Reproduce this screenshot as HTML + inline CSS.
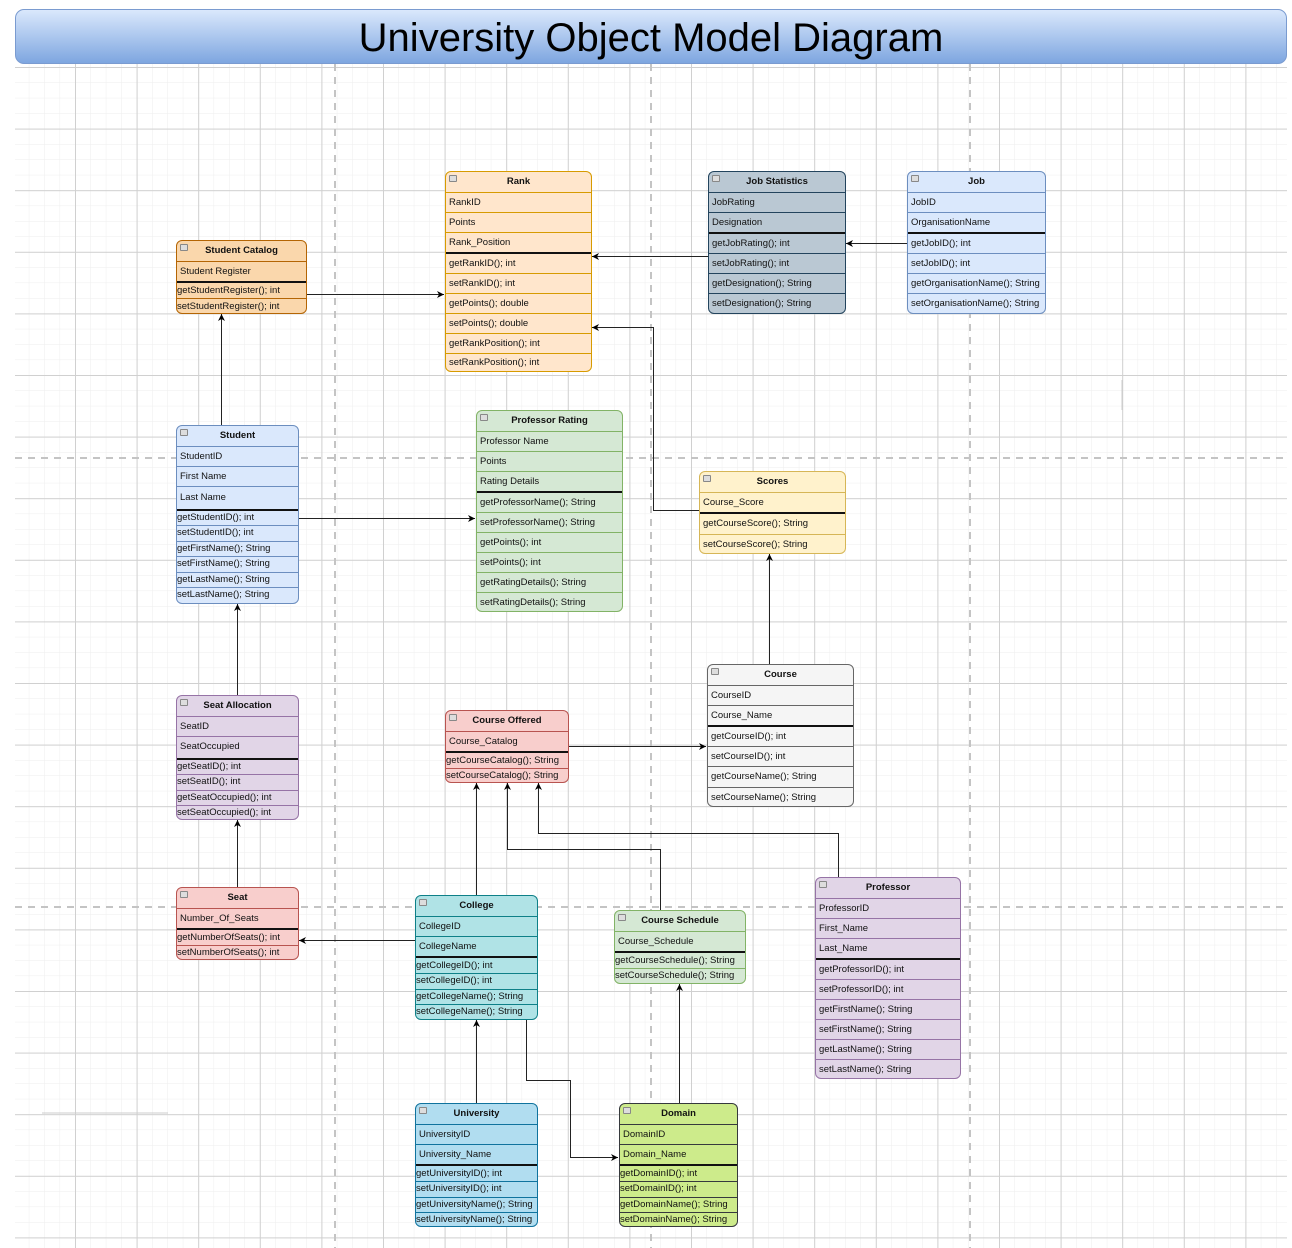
<!DOCTYPE html>
<html><head><meta charset="utf-8"><style>
html,body{margin:0;padding:0;background:#fff;}
#c{position:relative;width:1292px;height:1248px;overflow:hidden;font-family:"Liberation Sans",sans-serif;}
.b{position:absolute;border:1px solid;border-radius:6px;overflow:hidden;box-sizing:border-box;}
.b div{box-sizing:border-box;white-space:nowrap;font-size:9.5px;color:#111;}
.h{font-weight:bold;text-align:center;position:relative;}
.h:before{content:"";position:absolute;left:3px;top:3px;width:6px;height:5px;border:1px solid #888;background:#ddd;border-radius:1px;}
.r{padding-left:3px;border-top:1px solid;}
.m{padding-left:0px;border-top:1px solid;}
.s{border-top:2px solid #111 !important;}
#title{position:absolute;left:15px;top:9px;width:1272px;height:55px;border:1px solid #7a9bd0;border-radius:9px;box-sizing:border-box;background:linear-gradient(#dae8fc,#7ea6e0);text-align:center;font-size:40px;line-height:56px;color:#000;}
</style></head><body><div id="c">
<svg width="1292" height="1248" style="position:absolute;left:0;top:0">
<defs>
<pattern id="mi" x="13.4" y="5.4" width="15.4" height="15.4" patternUnits="userSpaceOnUse"><path d="M0 0H15.4M0 0V15.4" stroke="#eeeeee" stroke-width="1" fill="none"/></pattern>
<pattern id="ma" x="13.4" y="5.4" width="61.6" height="61.6" patternUnits="userSpaceOnUse"><path d="M0 0.5H61.6M0.5 0V61.6" stroke="#d0d0d0" stroke-width="1" fill="none"/></pattern>
<marker id="a" markerWidth="8" markerHeight="8" refX="7" refY="4" orient="auto" markerUnits="userSpaceOnUse"><path d="M0 0.5L7 4L0 7.5L2 4Z" fill="#000"/></marker>
</defs>
<rect x="15" y="8" width="1272" height="1240" fill="#fff"/>
<rect x="15" y="64" width="1272" height="1184" fill="url(#mi)"/>
<rect x="15" y="64" width="1272" height="1184" fill="url(#ma)"/>
<g stroke="#c4c4c4" stroke-width="2" stroke-dasharray="7,6">
<path d="M335 64V1248M651 64V1248M970 64V1248M15 458H1287M15 907H1287"/>
</g>
<path d="M42 1113H168M1122 380V410" stroke="#ccc"/>
<g stroke="#222" stroke-width="1" fill="none" marker-end="url(#a)">
<path d="M306 294.5H444"/>
<path d="M708 256.5H592"/>
<path d="M907 243.5H846"/>
<path d="M699 510.5H653.5V327.5H592"/>
<path d="M221.5 425V314"/>
<path d="M298 518.5H475"/>
<path d="M237.5 695V604"/>
<path d="M237.5 887V820"/>
<path d="M769.5 664V554"/>
<path d="M568 746.5H706"/>
<path d="M415 940.5H299"/>
<path d="M476.5 895V783"/>
<path d="M660.5 910V849.5H507.5V783"/>
<path d="M838.5 877V833.5H538.5V783"/>
<path d="M476.5 1103V1020"/>
<path d="M526.5 1019V1080.5H570.5V1157.5H618"/>
<path d="M679.5 1103V984"/>
</g>
</svg>
<div id="title">University Object Model Diagram</div>

<!-- Student Catalog -->
<div class="b" style="left:176px;top:240px;width:131px;height:74px;border-color:#b46504;background:#fad7ac">
<div class="h" style="height:20px;line-height:20px">Student Catalog</div>
<div class="r" style="height:20px;line-height:19px;border-color:#b46504">Student Register</div>
<div class="m s" style="height:17px;line-height:15px">getStudentRegister(); int</div>
<div class="m" style="height:16px;line-height:15px;border-color:#b46504">setStudentRegister(); int</div>
</div>

<!-- Rank -->
<div class="b" style="left:445px;top:171px;width:147px;height:201px;border-color:#d79b00;background:#ffe6cc">
<div class="h" style="height:20px;line-height:20px">Rank</div>
<div class="r" style="height:20px;line-height:19px;border-color:#d79b00">RankID</div>
<div class="r" style="height:20px;line-height:19px;border-color:#d79b00">Points</div>
<div class="r" style="height:20px;line-height:19px;border-color:#d79b00">Rank_Position</div>
<div class="r s" style="height:21px;line-height:19px">getRankID(); int</div>
<div class="r" style="height:20px;line-height:19px;border-color:#d79b00">setRankID(); int</div>
<div class="r" style="height:20px;line-height:19px;border-color:#d79b00">getPoints(); double</div>
<div class="r" style="height:20px;line-height:19px;border-color:#d79b00">setPoints(); double</div>
<div class="r" style="height:20px;line-height:19px;border-color:#d79b00">getRankPosition(); int</div>
<div class="r" style="height:19px;line-height:18px;border-color:#d79b00">setRankPosition(); int</div>
</div>

<!-- Job Statistics -->
<div class="b" style="left:708px;top:171px;width:138px;height:143px;border-color:#23445d;background:#bac8d3">
<div class="h" style="height:20px;line-height:20px">Job Statistics</div>
<div class="r" style="height:20px;line-height:19px;border-color:#23445d">JobRating</div>
<div class="r" style="height:20px;line-height:19px;border-color:#23445d">Designation</div>
<div class="r s" style="height:21px;line-height:19px">getJobRating(); int</div>
<div class="r" style="height:20px;line-height:19px;border-color:#23445d">setJobRating(); int</div>
<div class="r" style="height:20px;line-height:19px;border-color:#23445d">getDesignation(); String</div>
<div class="r" style="height:20px;line-height:19px;border-color:#23445d">setDesignation(); String</div>
</div>

<!-- Job -->
<div class="b" style="left:907px;top:171px;width:139px;height:143px;border-color:#6c8ebf;background:#dae8fc">
<div class="h" style="height:20px;line-height:20px">Job</div>
<div class="r" style="height:20px;line-height:19px;border-color:#6c8ebf">JobID</div>
<div class="r" style="height:20px;line-height:19px;border-color:#6c8ebf">OrganisationName</div>
<div class="r s" style="height:21px;line-height:19px">getJobID(); int</div>
<div class="r" style="height:20px;line-height:19px;border-color:#6c8ebf">setJobID(); int</div>
<div class="r" style="height:20px;line-height:19px;border-color:#6c8ebf">getOrganisationName(); String</div>
<div class="r" style="height:20px;line-height:19px;border-color:#6c8ebf">setOrganisationName(); String</div>
</div>

<!-- Student -->
<div class="b" style="left:176px;top:425px;width:123px;height:179px;border-color:#6c8ebf;background:#dae8fc">
<div class="h" style="height:20px;line-height:20px">Student</div>
<div class="r" style="height:20px;line-height:19px;border-color:#6c8ebf">StudentID</div>
<div class="r" style="height:20px;line-height:19px;border-color:#6c8ebf">First Name</div>
<div class="r" style="height:23px;line-height:21px;border-color:#6c8ebf">Last Name</div>
<div class="m s" style="height:16px;line-height:14px">getStudentID(); int</div>
<div class="m" style="height:15.5px;line-height:14px;border-color:#6c8ebf">setStudentID(); int</div>
<div class="m" style="height:15.5px;line-height:14px;border-color:#6c8ebf">getFirstName(); String</div>
<div class="m" style="height:15.5px;line-height:14px;border-color:#6c8ebf">setFirstName(); String</div>
<div class="m" style="height:15.5px;line-height:14px;border-color:#6c8ebf">getLastName(); String</div>
<div class="m" style="height:15.5px;line-height:14px;border-color:#6c8ebf">setLastName(); String</div>
</div>

<!-- Professor Rating -->
<div class="b" style="left:476px;top:410px;width:147px;height:202px;border-color:#82b366;background:#d5e8d4">
<div class="h" style="height:20px;line-height:20px">Professor Rating</div>
<div class="r" style="height:20px;line-height:19px;border-color:#82b366">Professor Name</div>
<div class="r" style="height:20px;line-height:19px;border-color:#82b366">Points</div>
<div class="r" style="height:20px;line-height:19px;border-color:#82b366">Rating Details</div>
<div class="r s" style="height:21px;line-height:19px">getProfessorName(); String</div>
<div class="r" style="height:20px;line-height:19px;border-color:#82b366">setProfessorName(); String</div>
<div class="r" style="height:20px;line-height:19px;border-color:#82b366">getPoints(); int</div>
<div class="r" style="height:20px;line-height:19px;border-color:#82b366">setPoints(); int</div>
<div class="r" style="height:20px;line-height:19px;border-color:#82b366">getRatingDetails(); String</div>
<div class="r" style="height:20px;line-height:19px;border-color:#82b366">setRatingDetails(); String</div>
</div>

<!-- Scores -->
<div class="b" style="left:699px;top:471px;width:147px;height:83px;border-color:#d6b656;background:#fff2cc">
<div class="h" style="height:20px;line-height:20px">Scores</div>
<div class="r" style="height:20px;line-height:19px;border-color:#d6b656">Course_Score</div>
<div class="r s" style="height:22px;line-height:20px">getCourseScore(); String</div>
<div class="r" style="height:20px;line-height:19px;border-color:#d6b656">setCourseScore(); String</div>
</div>

<!-- Course -->
<div class="b" style="left:707px;top:664px;width:147px;height:143px;border-color:#666;background:#f5f5f5">
<div class="h" style="height:20px;line-height:20px">Course</div>
<div class="r" style="height:20px;line-height:19px;border-color:#666">CourseID</div>
<div class="r" style="height:20px;line-height:19px;border-color:#666">Course_Name</div>
<div class="r s" style="height:21px;line-height:19px">getCourseID(); int</div>
<div class="r" style="height:20px;line-height:19px;border-color:#666">setCourseID(); int</div>
<div class="r" style="height:21px;line-height:20px;border-color:#666">getCourseName(); String</div>
<div class="r" style="height:20px;line-height:19px;border-color:#666">setCourseName(); String</div>
</div>

<!-- Seat Allocation -->
<div class="b" style="left:176px;top:695px;width:123px;height:125px;border-color:#9673a6;background:#e1d5e7">
<div class="h" style="height:20px;line-height:20px">Seat Allocation</div>
<div class="r" style="height:20px;line-height:19px;border-color:#9673a6">SeatID</div>
<div class="r" style="height:22px;line-height:20px;border-color:#9673a6">SeatOccupied</div>
<div class="m s" style="height:16px;line-height:14px">getSeatID(); int</div>
<div class="m" style="height:15.5px;line-height:14px;border-color:#9673a6">setSeatID(); int</div>
<div class="m" style="height:15.5px;line-height:14px;border-color:#9673a6">getSeatOccupied(); int</div>
<div class="m" style="height:15.5px;line-height:14px;border-color:#9673a6">setSeatOccupied(); int</div>
</div>

<!-- Course Offered -->
<div class="b" style="left:445px;top:710px;width:124px;height:73px;border-color:#b85450;background:#f8cecc">
<div class="h" style="height:20px;line-height:20px">Course Offered</div>
<div class="r" style="height:20px;line-height:19px;border-color:#b85450">Course_Catalog</div>
<div class="m s" style="height:17px;line-height:15px">getCourseCatalog(); String</div>
<div class="m" style="height:15px;line-height:14px;border-color:#b85450">setCourseCatalog(); String</div>
</div>

<!-- Seat -->
<div class="b" style="left:176px;top:887px;width:123px;height:73px;border-color:#b85450;background:#f8cecc">
<div class="h" style="height:20px;line-height:20px">Seat</div>
<div class="r" style="height:20px;line-height:19px;border-color:#b85450">Number_Of_Seats</div>
<div class="m s" style="height:17px;line-height:15px">getNumberOfSeats(); int</div>
<div class="m" style="height:15px;line-height:14px;border-color:#b85450">setNumberOfSeats(); int</div>
</div>

<!-- College -->
<div class="b" style="left:415px;top:895px;width:123px;height:125px;border-color:#0e8088;background:#b0e3e6">
<div class="h" style="height:20px;line-height:20px">College</div>
<div class="r" style="height:20px;line-height:19px;border-color:#0e8088">CollegeID</div>
<div class="r" style="height:20px;line-height:19px;border-color:#0e8088">CollegeName</div>
<div class="m s" style="height:17px;line-height:15px">getCollegeID(); int</div>
<div class="m" style="height:15.5px;line-height:14px;border-color:#0e8088">setCollegeID(); int</div>
<div class="m" style="height:15.5px;line-height:14px;border-color:#0e8088">getCollegeName(); String</div>
<div class="m" style="height:15.5px;line-height:14px;border-color:#0e8088">setCollegeName(); String</div>
</div>

<!-- Course Schedule -->
<div class="b" style="left:614px;top:910px;width:132px;height:74px;border-color:#82b366;background:#d5e8d4">
<div class="h" style="height:20px;line-height:20px">Course Schedule</div>
<div class="r" style="height:20px;line-height:19px;border-color:#82b366">Course_Schedule</div>
<div class="m s" style="height:17px;line-height:15px">getCourseSchedule(); String</div>
<div class="m" style="height:16px;line-height:14px;border-color:#82b366">setCourseSchedule(); String</div>
</div>

<!-- Professor -->
<div class="b" style="left:815px;top:877px;width:146px;height:202px;border-color:#9673a6;background:#e1d5e7">
<div class="h" style="height:20px;line-height:20px">Professor</div>
<div class="r" style="height:20px;line-height:19px;border-color:#9673a6">ProfessorID</div>
<div class="r" style="height:20px;line-height:19px;border-color:#9673a6">First_Name</div>
<div class="r" style="height:20px;line-height:19px;border-color:#9673a6">Last_Name</div>
<div class="r s" style="height:21px;line-height:19px">getProfessorID(); int</div>
<div class="r" style="height:20px;line-height:19px;border-color:#9673a6">setProfessorID(); int</div>
<div class="r" style="height:20px;line-height:19px;border-color:#9673a6">getFirstName(); String</div>
<div class="r" style="height:20px;line-height:19px;border-color:#9673a6">setFirstName(); String</div>
<div class="r" style="height:20px;line-height:19px;border-color:#9673a6">getLastName(); String</div>
<div class="r" style="height:20px;line-height:19px;border-color:#9673a6">setLastName(); String</div>
</div>

<!-- University -->
<div class="b" style="left:415px;top:1103px;width:123px;height:124px;border-color:#10739e;background:#b1ddf0">
<div class="h" style="height:20px;line-height:20px">University</div>
<div class="r" style="height:20px;line-height:19px;border-color:#10739e">UniversityID</div>
<div class="r" style="height:20px;line-height:19px;border-color:#10739e">University_Name</div>
<div class="m s" style="height:17px;line-height:15px">getUniversityID(); int</div>
<div class="m" style="height:15.5px;line-height:14px;border-color:#10739e">setUniversityID(); int</div>
<div class="m" style="height:15.5px;line-height:14px;border-color:#10739e">getUniversityName(); String</div>
<div class="m" style="height:15.5px;line-height:14px;border-color:#10739e">setUniversityName(); String</div>
</div>

<!-- Domain -->
<div class="b" style="left:619px;top:1103px;width:119px;height:124px;border-color:#36393d;background:#cdeb8b">
<div class="h" style="height:20px;line-height:20px">Domain</div>
<div class="r" style="height:20px;line-height:19px;border-color:#36393d">DomainID</div>
<div class="r" style="height:20px;line-height:19px;border-color:#36393d">Domain_Name</div>
<div class="m s" style="height:17px;line-height:15px">getDomainID(); int</div>
<div class="m" style="height:15.5px;line-height:14px;border-color:#36393d">setDomainID(); int</div>
<div class="m" style="height:15.5px;line-height:14px;border-color:#36393d">getDomainName(); String</div>
<div class="m" style="height:15.5px;line-height:14px;border-color:#36393d">setDomainName(); String</div>
</div>

</div></body></html>
